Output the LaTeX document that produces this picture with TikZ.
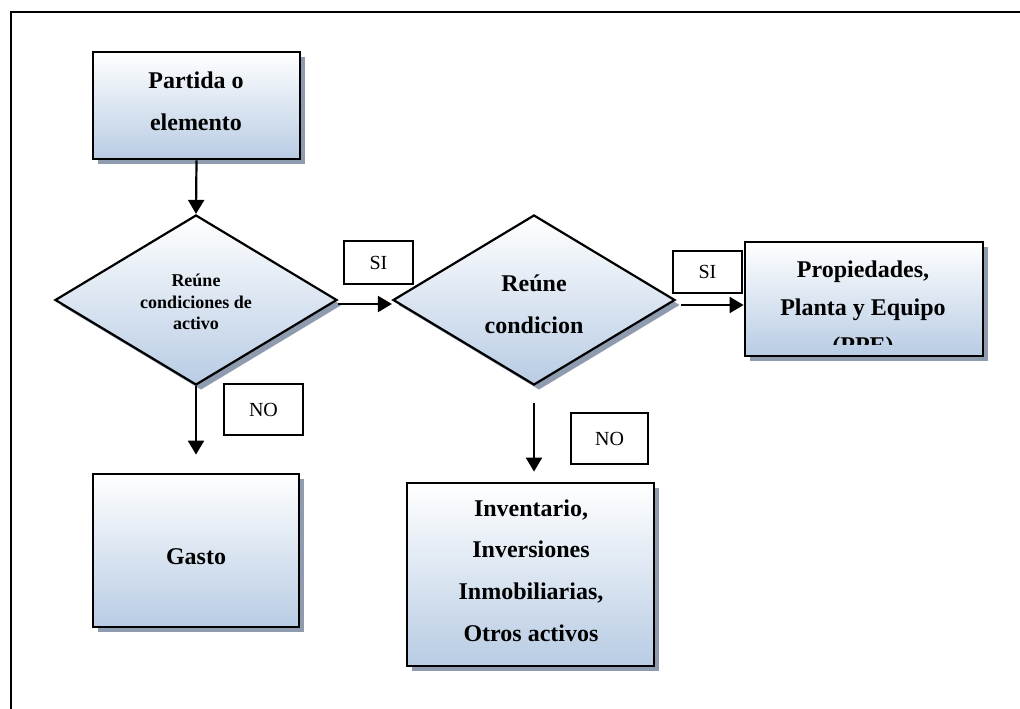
\documentclass[tikz,border=0pt]{standalone}
\usepackage{fontspec}
\setmainfont{Liberation Serif}
\usetikzlibrary{shapes.geometric,shadows,arrows.meta}
\definecolor{boxblue}{RGB}{184,204,228}
\definecolor{shadowc}{RGB}{143,156,176}

\begin{document}
\begin{tikzpicture}[x=1pt,y=-1pt,
  boxshadow/.style={drop shadow={shadow xshift=5pt, shadow yshift=-5pt, fill=shadowc, opacity=1}},
  flowbox/.style={rectangle, draw, line width=2.8pt, top color=white, bottom color=boxblue, boxshadow, inner sep=0pt},
  decision/.style={diamond, draw, line width=2.2pt, top color=white, bottom color=boxblue, boxshadow, inner sep=0pt, minimum width=282pt, minimum height=170pt},
  boxtext/.style={align=center, inner sep=0pt, font=\fontsize{24}{42}\selectfont\bfseries},
  tag/.style={rectangle, draw, line width=1.3pt, fill=white, inner sep=0pt, font=\fontsize{20}{24}\selectfont},
  arr/.style={line width=2.2pt, -{Triangle[length=14pt,width=16pt]}}]
\useasboundingbox (0,0) rectangle (1020,709);

% page frame
\draw[line width=2pt] (11,709) -- (11,12) -- (1020,12);

% boxes
\node[flowbox, minimum width=207pt, minimum height=107pt] (start) at (196.5,105.5) {};
\node[boxtext] (starttext) at (196,101) {Partida o\\elemento};

\node[decision] (d1) at (196,300) {};
\node[align=center, inner sep=0pt, font=\fontsize{18}{21.5}\selectfont\bfseries] (d1text) at (196,302) {Reúne\\condiciones de\\activo};

\node[decision] (d2) at (534,300) {};
\begin{scope}
  \clip (390,200) rectangle (680,334);
  \node[boxtext] (d2text) at (534,304) {Reúne\\condicion};
\end{scope}

\node[flowbox, minimum width=238pt, minimum height=114pt] (ppe) at (864,299) {};
\begin{scope}
  \clip (746,243) rectangle (982,344);
  \node[boxtext, font=\fontsize{24}{38}\selectfont\bfseries] (ppetext) at (863,310) {Propiedades,\\Planta y Equipo\\(PPE)};
\end{scope}

\node[flowbox, minimum width=206pt, minimum height=153pt] (gasto) at (196,550.5) {};
\node[boxtext] (gastotext) at (196,557) {Gasto};

\node[flowbox, minimum width=247pt, minimum height=183pt] (inv) at (530.5,574.5) {};
\node[boxtext, font=\fontsize{24}{41.7}\selectfont\bfseries] (invtext) at (531,570.5) {Inventario,\\Inversiones\\Inmobiliarias,\\Otros activos};

% answer tags
\node[tag, minimum width=69pt, minimum height=43pt] (si1) at (378.5,262.5) {SI};
\node[tag, minimum width=69pt, minimum height=42pt] (si2) at (707.5,272) {SI};
\node[tag, minimum width=79pt, minimum height=51pt] (no1) at (263.5,409.5) {NO};
\node[tag, minimum width=77pt, minimum height=51pt] (no2) at (609.5,438.5) {NO};

% connectors
\draw[arr] (start.south) -- (d1.north);
\draw[arr] ([yshift=-4pt]d1.east) -- ([yshift=-4pt]d2.west);
\draw[arr] ([xshift=5pt,yshift=-5pt]d2.east) -- ([yshift=-6pt]ppe.west);
\draw[arr, shorten >=18pt] (d1.south) -- (gasto.north);
\draw[arr, shorten <=17pt, shorten >=10pt] (d2.south) -- (d2.south |- inv.north);
\end{tikzpicture}
\end{document}
